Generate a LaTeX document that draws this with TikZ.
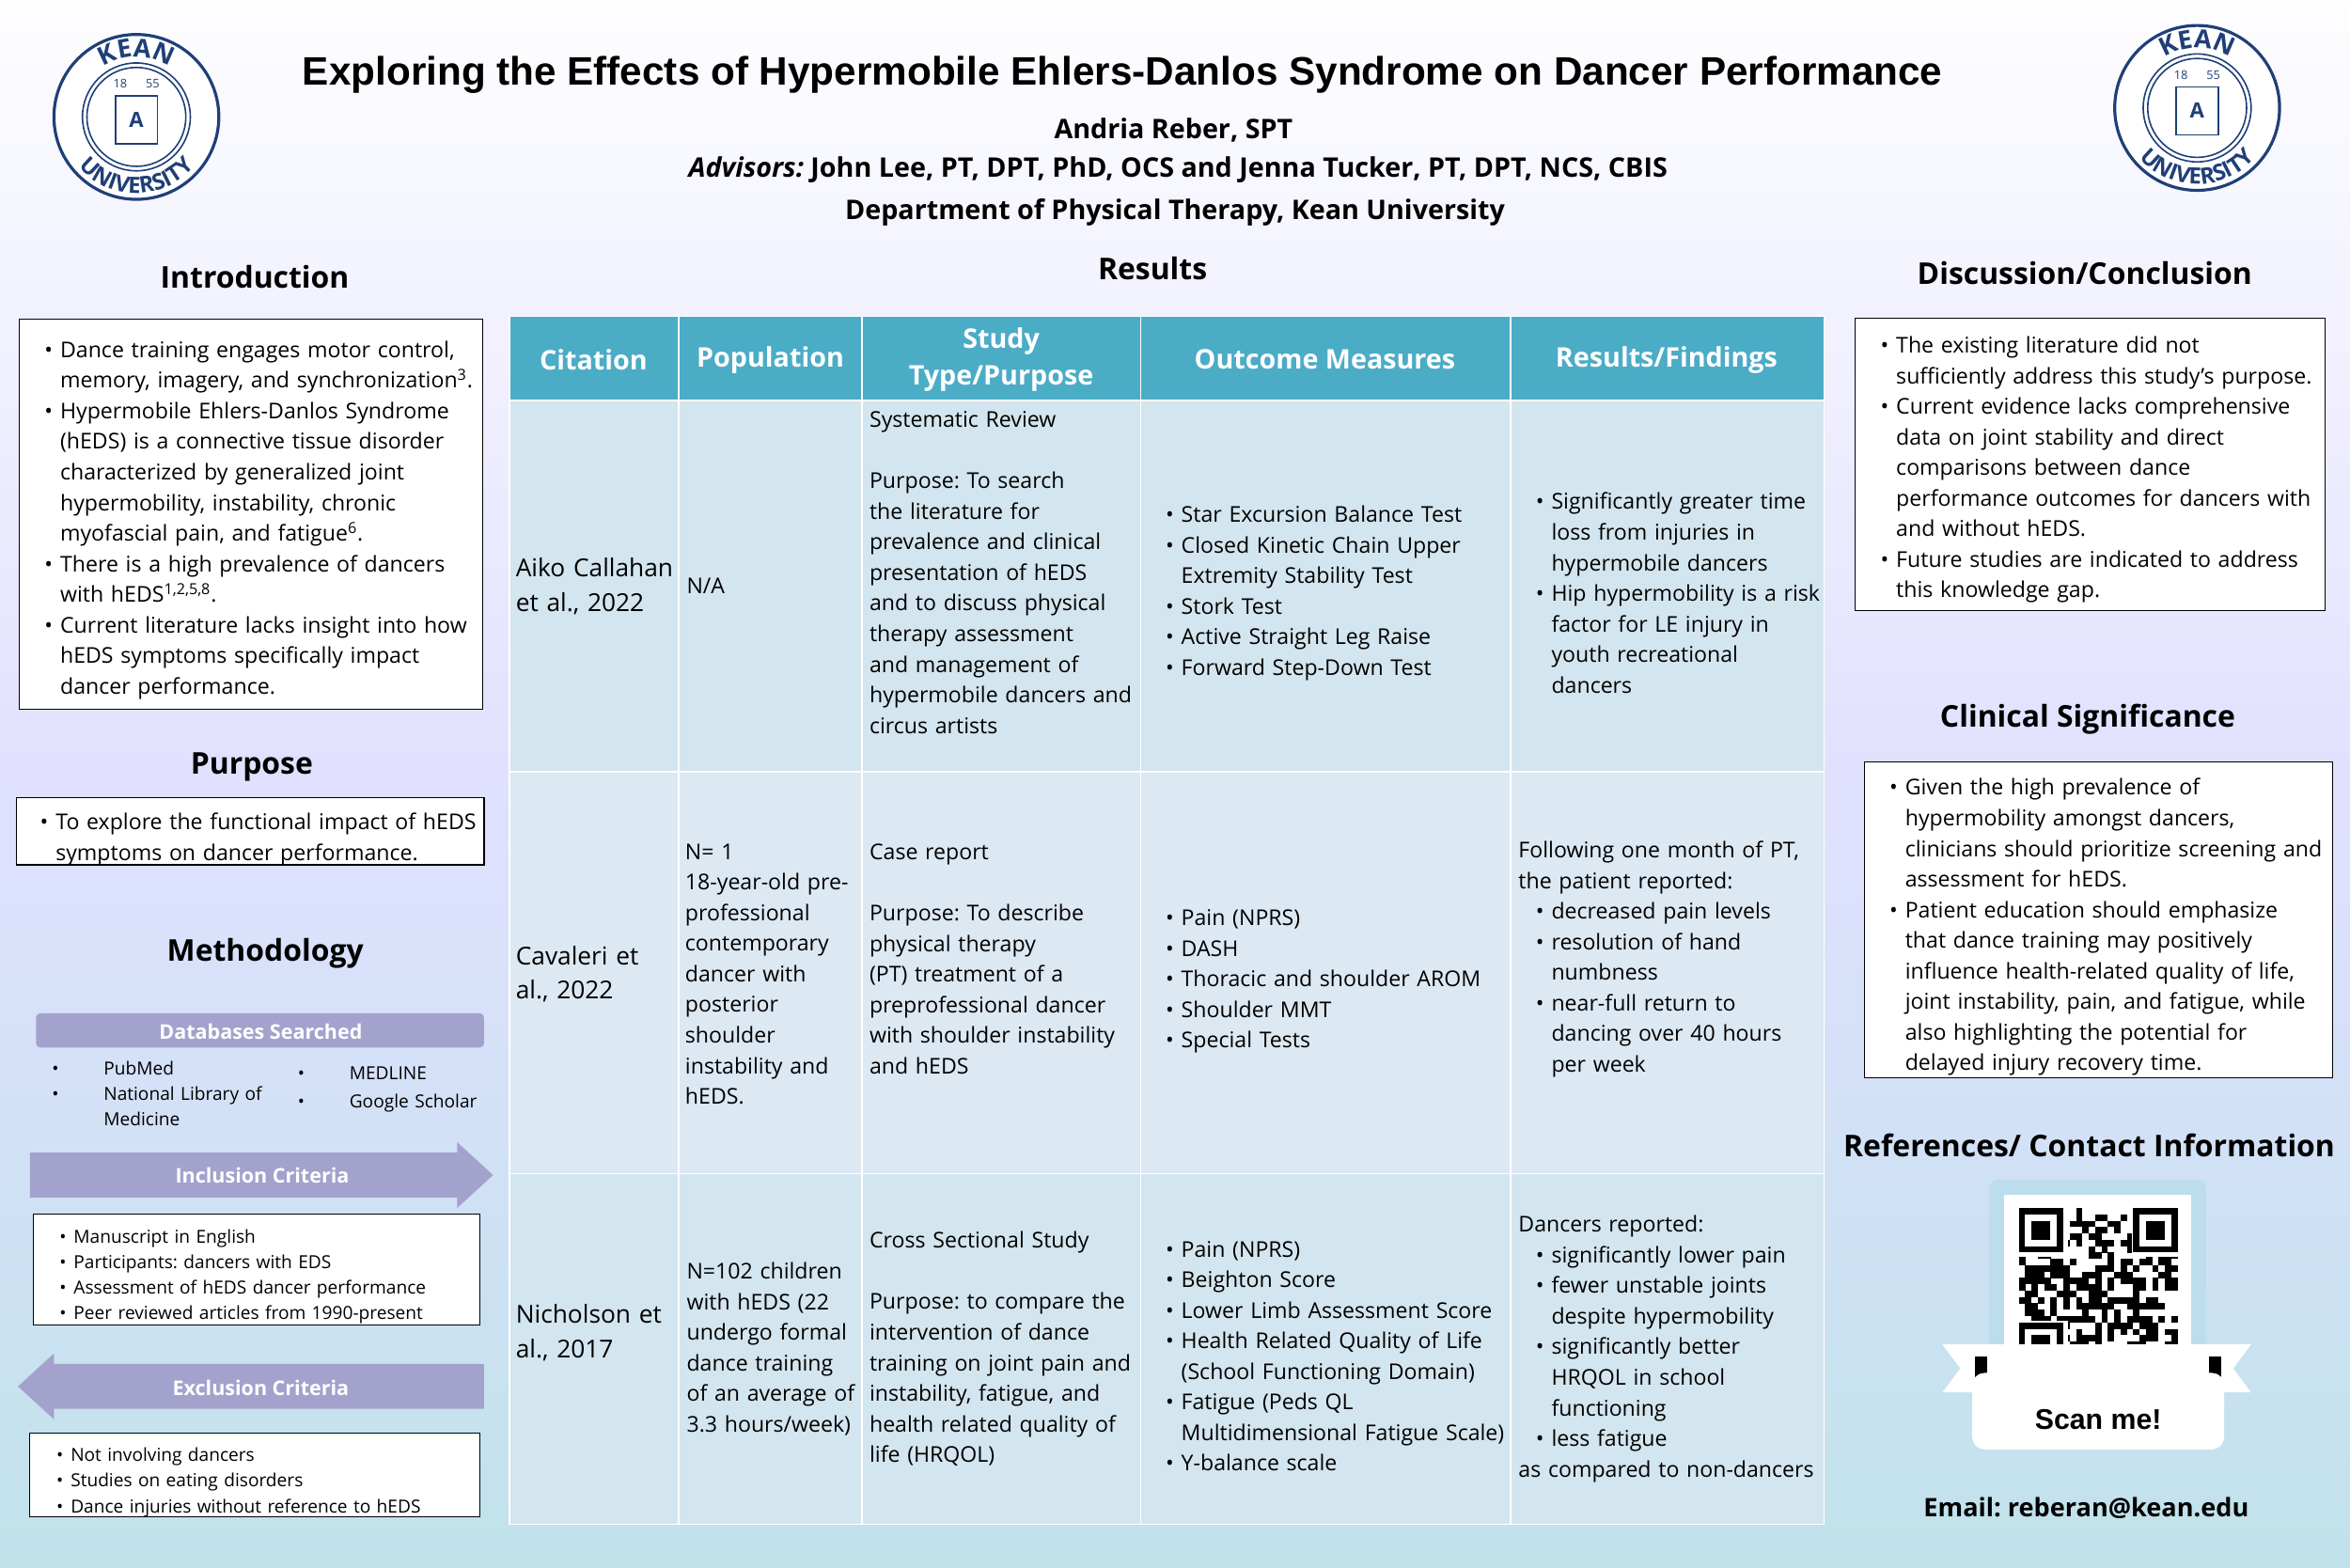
\documentclass[tikz,border=0pt]{standalone}
\usepackage{fontspec}
\setmainfont{Open Sans}
\newfontfamily\titlefont{Liberation Sans}
\usepackage{enumitem}
\usetikzlibrary{decorations.text}
\definecolor{hdr}{HTML}{4BACC6}
\definecolor{rowa}{HTML}{D3E5EE}
\definecolor{rowb}{HTML}{DCE8F2}
\definecolor{lav}{HTML}{A3A2CC}
\definecolor{navy}{HTML}{1F3F78}
\definecolor{qrf}{HTML}{BCDDEC}
\hyphenpenalty=10000 \exhyphenpenalty=0
\frenchspacing
\newcommand{\bodyf}{\fontsize{14.5}{20.4}\selectfont\raggedright\hyphenpenalty=10000 }
\newcommand{\smallf}{\fontsize{12}{17}\selectfont\raggedright}
\setlist[itemize]{leftmargin=22pt,itemsep=0pt,parsep=0pt,topsep=0pt,label=\textbullet}
\tikzset{
 sect/.style={font=\fontsize{20}{24}\selectfont\bfseries},
 wbox/.style={draw=black,fill=white,line width=0.8pt},
 cell/.style={align=left,font=\bodyf,inner sep=0pt},
 hcell/.style={align=center,font=\fontsize{18}{24}\selectfont\bfseries,text=white,inner sep=0pt},
 tline/.style={white,line width=1pt},
 banner/.style={fill=lav,draw=none,text=white,font=\fontsize{13.5}{16}\selectfont\bfseries},
}
\begin{document}
\begin{tikzpicture}[x=1pt,y=-1pt]
\useasboundingbox (0,0) rectangle (1568,1046);
\shade[top color=white!90!blue!5, bottom color=hdr!35!white, middle color=blue!12!white] (0,0) rectangle (1568,1046);
% logos
\foreach \cx/\cy/\nm in {91/78/la,1466/72/lb}{
 \fill[white] (\cx,\cy) circle (56);
 \draw[navy,line width=2pt] (\cx,\cy) circle (55);
 \draw[navy,line width=1pt] (\cx,\cy) circle (36);
 \draw[navy,line width=1pt] (\cx,\cy) circle (33);
 \path[decorate,decoration={text along path,text={|\fontsize{17}{17}\selectfont\bfseries\color{navy}|KEAN},text align=center}] (\cx-40,\cy) arc (180:360:40);
 \path[decorate,decoration={text along path,text={|\fontsize{15}{15}\selectfont\bfseries\color{navy}|UNIVERSITY},text align=center}] (\cx-51,\cy) arc (180:0:51);
 \node[navy,font=\fontsize{8}{8}\selectfont] at (\cx,\cy-22) {18\ \ \ \ \ \ 55};
 \draw[navy,line width=1pt] (\cx-14,\cy-14) rectangle (\cx+14,\cy+18);
 \node[navy,font=\fontsize{14}{14}\selectfont\bfseries] at (\cx,\cy+2) {A};
}
% title
\node[font=\titlefont\fontsize{26.5}{30}\selectfont\bfseries] (title) at (749,50) {Exploring the Effects of Hypermobile Ehlers-Danlos Syndrome on Dancer Performance};
\node[font=\fontsize{18}{22}\selectfont\bfseries] (auth) at (783,87) {Andria Reber, SPT};
\node[font=\fontsize{18}{22}\selectfont\bfseries] (adv) at (786,113) {\textit{Advisors:} John Lee, PT, DPT, PhD, OCS and Jenna Tucker, PT, DPT, NCS, CBIS};
\node[font=\fontsize{18}{22}\selectfont\bfseries] (dept) at (784,142) {Department of Physical Therapy, Kean University};
% section headers
\node[sect] at (170,185) {Introduction};
\node[sect] at (168,512) {Purpose};
\node[sect] at (177,636) {Methodology};
\node[sect] at (769,179) {Results};
\node[sect] at (1391,182) {Discussion/Conclusion};
\node[sect] at (1393,480) {Clinical Significance};
\node[sect] at (1394,764) {References/ Contact Information};
% intro
\draw[wbox] (13,213) rectangle (322,473);
\node[anchor=north west,inner sep=0pt,text width=300pt,font=\bodyf] at (18,218) {\begin{itemize}
\item Dance training engages motor control, memory, imagery, and synchronization\textsuperscript{3}.
\item Hypermobile Ehlers-Danlos Syndrome (hEDS) is a connective tissue disorder characterized by generalized joint hypermobility, instability, chronic myofascial pain, and fatigue\textsuperscript{6}.
\item There is a high prevalence of dancers with hEDS\textsuperscript{1,2,5,8}.
\item Current literature lacks insight into how hEDS symptoms specifically impact dancer performance.
\end{itemize}};
% purpose
\draw[wbox] (11,532) rectangle (323,577);
\node[anchor=north west,inner sep=0pt,text width=306pt,font=\bodyf] at (15,533) {\begin{itemize}
\item To explore the functional impact of hEDS symptoms on dancer performance.
\end{itemize}};
% methodology
\fill[lav,rounded corners=3pt] (24,676) rectangle (323,699);
\node[banner] at (174,688) {Databases Searched};
\node[anchor=north west,inner sep=0pt,text width=150pt,font=\smallf] at (26,700) {\begin{itemize}[leftmargin=43pt,labelsep=30pt]
\item PubMed
\item National Library of Medicine
\end{itemize}};
\node[anchor=north west,inner sep=0pt,text width=140pt,font=\smallf] at (188,703) {\begin{itemize}[leftmargin=45pt,labelsep=30pt,itemsep=2pt]
\item MEDLINE
\item Google Scholar
\end{itemize}};
\fill[lav] (20,769) -- (305,769) -- (305,762) -- (329,784) -- (305,806) -- (305,799) -- (20,799) -- cycle;
\node[banner] (inc) at (175,784) {Inclusion Criteria};
\draw[wbox,line width=0.5pt] (22,810) rectangle (320,884);
\node[anchor=north west,inner sep=0pt,text width=290pt,font=\smallf] at (26,812) {\begin{itemize}[leftmargin=23pt]
\item Manuscript in English
\item Participants: dancers with EDS
\item Assessment of hEDS dancer performance
\item Peer reviewed articles from 1990-present
\end{itemize}};
\fill[lav] (12,925) -- (36,903) -- (36,910) -- (323,910) -- (323,940) -- (36,940) -- (36,947) -- cycle;
\node[banner] (exc) at (174,926) {Exclusion Criteria};
\draw[wbox,line width=0.5pt] (20,956) rectangle (320,1012);
\node[anchor=north west,inner sep=0pt,text width=290pt,font=\smallf] at (24,958) {\begin{itemize}[leftmargin=23pt]
\item Not involving dancers
\item Studies on eating disorders
\item Dance injuries without reference to hEDS
\end{itemize}};
% table
\fill[hdr] (340,211) rectangle (1217,267);
\fill[rowa] (340,267) rectangle (1217,515);
\fill[rowb] (340,515) rectangle (1217,783);
\fill[rowa] (340,783) rectangle (1217,1017);
\foreach \x in {453,575,761,1008} \draw[tline] (\x,211) -- (\x,1017);
\foreach \y in {267,515,783} \draw[tline] (340,\y) -- (1217,\y);
\draw[tline] (340,211) rectangle (1217,1017);
\node[hcell] at (396,240) {Citation};
\node[hcell] at (514,240) {Population};
\node[hcell] at (668,240) {Study\\Type/Purpose};
\node[hcell] at (884,240) {Outcome Measures};
\node[hcell] at (1112,240) {Results/Findings};
% row 1
\node[cell,text width=105pt,anchor=west,font=\fontsize{16.5}{23}\selectfont\raggedright] at (344,391) {Aiko Callahan et al., 2022};
\node[cell,text width=115pt,anchor=west] at (458,391) {N/A};
\node[cell,text width=180pt,anchor=west] at (580,382) {Systematic Review\\[20.4pt]Purpose: To search the literature for prevalence and clinical presentation of hEDS and to discuss physical therapy assessment and management of hypermobile dancers and circus artists};
\node[cell,text width=238pt,anchor=west] at (766,391) {\begin{itemize}
\item Star Excursion Balance Test
\item Closed Kinetic Chain Upper Extremity Stability Test
\item Stork Test
\item Active Straight Leg Raise
\item Forward Step-Down Test
\end{itemize}};
\node[cell,text width=204pt,anchor=west] at (1013,391) {\begin{itemize}
\item Significantly greater time loss from injuries in hypermobile dancers
\item Hip hypermobility is a risk factor for LE injury in youth recreational dancers
\end{itemize}};
% row 2
\node[cell,text width=105pt,anchor=west,font=\fontsize{16.5}{23}\selectfont\raggedright] at (344,650) {Cavaleri et al., 2022};
\node[cell,text width=119pt,anchor=west] at (457,650) {N= 1\\18-year-old pre-professional contemporary dancer with posterior shoulder instability and hEDS.};
\node[cell,text width=180pt,anchor=west] at (580,640) {Case report\\[20.4pt]Purpose: To describe physical therapy (PT) treatment of a preprofessional dancer with shoulder instability and hEDS};
\node[cell,text width=238pt,anchor=west] at (766,650) {\begin{itemize}
\item Pain (NPRS)
\item DASH
\item Thoracic and shoulder AROM
\item Shoulder MMT
\item Special Tests
\end{itemize}};
\node[cell,text width=200pt,anchor=west] at (1013,640) {Following one month of PT, the patient reported:\begin{itemize}
\item decreased pain levels
\item resolution of hand numbness
\item near-full return to dancing over 40 hours per week
\end{itemize}};
% row 3
\node[cell,text width=105pt,anchor=west,font=\fontsize{16.5}{23}\selectfont\raggedright] at (344,889) {Nicholson et al., 2017};
\node[cell,text width=118pt,anchor=west] at (458,900) {N=102 children with hEDS (22 undergo formal dance training of an average of 3.3 hours/week)};
\node[cell,text width=180pt,anchor=west] at (580,900) {Cross Sectional Study\\[20.4pt]Purpose: to compare the intervention of dance training on joint pain and instability, fatigue, and health related quality of life (HRQOL)};
\node[cell,text width=238pt,anchor=west] at (766,900) {\begin{itemize}
\item Pain (NPRS)
\item Beighton Score
\item Lower Limb Assessment Score
\item Health Related Quality of Life (School Functioning Domain)
\item Fatigue (Peds QL Multidimensional Fatigue Scale)
\item Y-balance scale
\end{itemize}};
\node[cell,text width=200pt,anchor=west] at (1013,900) {Dancers reported:\begin{itemize}
\item significantly lower pain
\item fewer unstable joints despite hypermobility
\item significantly better HRQOL in school functioning
\item less fatigue
\end{itemize}as compared to non-dancers};
% discussion
\draw[wbox,line width=0.5pt] (1238,212) rectangle (1551,407);
\node[anchor=north west,inner sep=0pt,text width=303pt,font=\bodyf] at (1242,215) {\begin{itemize}[leftmargin=23pt]
\item The existing literature did not sufficiently address this study's purpose.
\item Current evidence lacks comprehensive data on joint stability and direct comparisons between dance performance outcomes for dancers with and without hEDS.
\item Future studies are indicated to address this knowledge gap.
\end{itemize}};
\draw[wbox,line width=0.5pt] (1244,508) rectangle (1556,719);
\node[anchor=north west,inner sep=0pt,text width=303pt,font=\bodyf] at (1248,510) {\begin{itemize}[leftmargin=23pt]
\item Given the high prevalence of hypermobility amongst dancers, clinicians should prioritize screening and assessment for hEDS.
\item Patient education should emphasize that dance training may positively influence health-related quality of life, joint instability, pain, and fatigue, while also highlighting the potential for delayed injury recovery time.
\end{itemize}};
% QR
\fill[qrf,rounded corners=6pt] (1327,787) rectangle (1472,945);
\fill[white] (1337,797) rectangle (1462,922);
\pgfmathsetseed{11}
\foreach \i in {0,...,24}{\foreach \j in {0,...,24}{
 \pgfmathparse{rnd<0.5?1:0}
 \ifnum\pgfmathresult=1 \fill[black] (1347+\i*4.24,806+\j*4.24) rectangle ++(4.3,4.3);\fi}}
\foreach \px/\py in {1347/806,1423.3/806,1347/882.3}{
 \fill[white] (\px-1,\py-1) rectangle ++(33.7,33.7);
 \fill[black] (\px,\py) rectangle ++(29.7,29.7);
 \fill[white] (\px+4.24,\py+4.24) rectangle ++(21.2,21.2);
 \fill[black] (\px+8.48,\py+8.48) rectangle ++(12.7,12.7);}
\fill[white] (1296,897) -- (1502,897) -- (1490,913) -- (1502,929) -- (1296,929) -- (1308,913) -- cycle;
\fill[black] (1318,905) rectangle (1326,922);
\fill[black] (1474,905) rectangle (1482,922);
\fill[white,rounded corners=8pt] (1316,916) rectangle (1484,967);
\node[font=\titlefont\fontsize{19}{22}\selectfont\bfseries] (scan) at (1400,947) {Scan me!};
\node[font=\fontsize{17}{20}\selectfont\bfseries] (email) at (1392,1006) {Email: reberan@kean.edu};
\end{tikzpicture}
\end{document}
